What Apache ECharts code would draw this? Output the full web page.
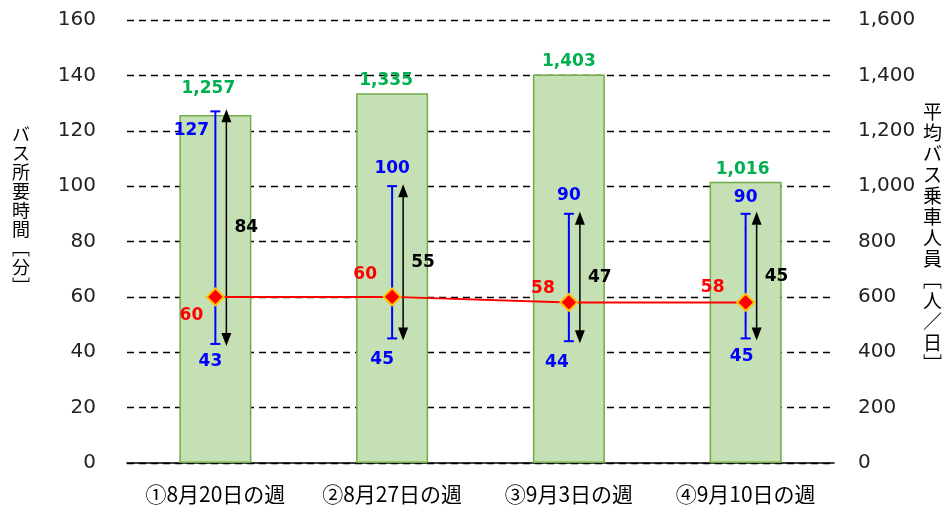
<!DOCTYPE html>
<html><head><meta charset="utf-8">
<script src="https://cdn.jsdelivr.net/npm/echarts@6/dist/echarts.min.js"></script>
<style>html,body{margin:0;padding:0;background:#fff}#c{width:946px;height:508px}</style>
</head><body><div id="c"></div>
<script>
const categories = ['①8月20日の週','②8月27日の週','③9月3日の週','④9月10日の週'];
const riders = [1257, 1335, 1403, 1016];
const avgTime = [60, 60, 58, 58];
const maxTime = [127, 100, 90, 90];
const minTime = [43, 45, 44, 45];
const rangeDiff = [84, 55, 47, 45];
const leftTicks = [0, 20, 40, 60, 80, 100, 120, 140, 160];
const rightTicks = [0, 200, 400, 600, 800, 1000, 1200, 1400, 1600];

// label layout (pixel offsets), not data
const maxLabelOffset = [[-24, 19], [0, -18], [0, -18], [0, -16]];
const minLabelOffset = [[-5, 18], [-10, 21], [-12, 21], [-4, 18]];
const avgLabelOffset = [[-24, 19], [-27, -22], [-26, -14], [-33, -15]];
const barLabelOffset = [[-7, -14], [-6, 0], [0, 0], [-3, 0]];

const numFont = 'DejaVu Sans, Verdana, sans-serif';
const fmt = v => v.toLocaleString('en-US');

const chart = echarts.init(document.getElementById('c'), null, {renderer: 'canvas'});

const errData = categories.map((c, i) => [i, minTime[i], maxTime[i], rangeDiff[i]]);

chart.setOption({
  animation: false,
  backgroundColor: '#fff',
  grid: {left: 127, right: 112, top: 20, bottom: 45, containLabel: false},
  xAxis: {
    type: 'category', data: categories,
    axisLine: {show: true, lineStyle: {color: '#000', width: 1.5}},
    axisTick: {show: false},
    axisLabel: {interval: 0, color: '#000', fontSize: 21, margin: 21, fontFamily: 'Noto Sans CJK JP'}
  },
  yAxis: [{
    type: 'value', min: leftTicks[0], max: leftTicks[leftTicks.length - 1], interval: 20,
    axisLine: {show: false}, axisTick: {show: false},
    axisLabel: {color: '#222', fontSize: 20, margin: 31, fontFamily: numFont},
    splitLine: {show: true, lineStyle: {color: '#000', width: 1.3, type: [7, 5]}}
  }, {
    type: 'value', min: rightTicks[0], max: rightTicks[rightTicks.length - 1], interval: 200,
    position: 'right',
    axisLine: {show: false}, axisTick: {show: false},
    axisLabel: {color: '#222', fontSize: 20, margin: 24, fontFamily: numFont, formatter: v => fmt(v)},
    splitLine: {show: false}
  }],
  graphic: [{
    type: 'text', left: 12, top: 125,
    style: {text: ['バ','ス','所','要','時','間','﹇','分','﹈'].join('\n'), fill: '#000',
      font: '18px "Noto Sans CJK JP"', lineHeight: 19, align: 'center'}
  }, {
    type: 'text', left: 923, top: 101,
    style: {text: ['平','均','バ','ス','乗','車','人','員','﹇','人','／','日','﹈'].join('\n'), fill: '#000',
      font: '19px "Noto Sans CJK JP"', lineHeight: 21, align: 'center'}
  }],
  series: [{
    type: 'bar', yAxisIndex: 1, barWidth: 72, z: 1,
    data: riders.map((v, i) => ({value: v, label: {offset: barLabelOffset[i]}})),
    itemStyle: {color: '#c5e0b4', borderColor: '#70ad47', borderWidth: 1.5},
    label: {show: true, position: 'top', distance: 4, color: '#00b050', fontWeight: 'bold',
      fontSize: 17, fontFamily: numFont, formatter: p => fmt(p.value)}
  }, {
    type: 'custom', yAxisIndex: 0, z: 3,
    data: errData,
    renderItem: function (params, api) {
      const i = api.value(0);
      const lo = api.coord([i, api.value(1)]);
      const hi = api.coord([i, api.value(2)]);
      const x = lo[0];
      const ax = x + 11;
      const cap = 5;
      const blue = '#0000ff';
      const tf = 'bold 17px ' + numFont;
      const mid = (lo[1] + hi[1]) / 2;
      const mo = maxLabelOffset[params.dataIndex];
      const no = minLabelOffset[params.dataIndex];
      return {type: 'group', children: [
        {type: 'line', shape: {x1: ax, y1: hi[1] + 10, x2: ax, y2: lo[1] - 10}, style: {stroke: '#000', lineWidth: 1.5}},
        {type: 'polygon', shape: {points: [[ax, hi[1] - 2], [ax - 5, hi[1] + 11], [ax + 5, hi[1] + 11]]}, style: {fill: '#000'}},
        {type: 'polygon', shape: {points: [[ax, lo[1] + 2], [ax - 5, lo[1] - 11], [ax + 5, lo[1] - 11]]}, style: {fill: '#000'}},
        {type: 'line', shape: {x1: x, y1: hi[1], x2: x, y2: lo[1]}, style: {stroke: blue, lineWidth: 2}},
        {type: 'line', shape: {x1: x - cap, y1: hi[1], x2: x + cap, y2: hi[1]}, style: {stroke: blue, lineWidth: 2}},
        {type: 'line', shape: {x1: x - cap, y1: lo[1], x2: x + cap, y2: lo[1]}, style: {stroke: blue, lineWidth: 2}},
        {type: 'text', x: x + mo[0], y: hi[1] + mo[1], style: {text: String(api.value(2)), fill: blue, font: tf, align: 'center', verticalAlign: 'middle'}},
        {type: 'text', x: x + no[0], y: lo[1] + no[1], style: {text: String(api.value(1)), fill: blue, font: tf, align: 'center', verticalAlign: 'middle'}},
        {type: 'text', x: ax + 8, y: mid, style: {text: String(api.value(3)), fill: '#000', font: tf, align: 'left', verticalAlign: 'middle'}}
      ]};
    }
  }, {
    type: 'line', yAxisIndex: 0, z: 5,
    data: avgTime.map((v, i) => ({value: v, label: {offset: avgLabelOffset[i]}})),
    lineStyle: {color: '#ff0000', width: 2},
    symbol: 'diamond', symbolSize: 17,
    itemStyle: {color: '#ff0000', borderColor: '#ffc000', borderWidth: 2},
    label: {show: true, position: 'inside', color: '#ff0000', fontWeight: 'bold', fontSize: 17, fontFamily: numFont}
  }]
});
</script></body></html>
